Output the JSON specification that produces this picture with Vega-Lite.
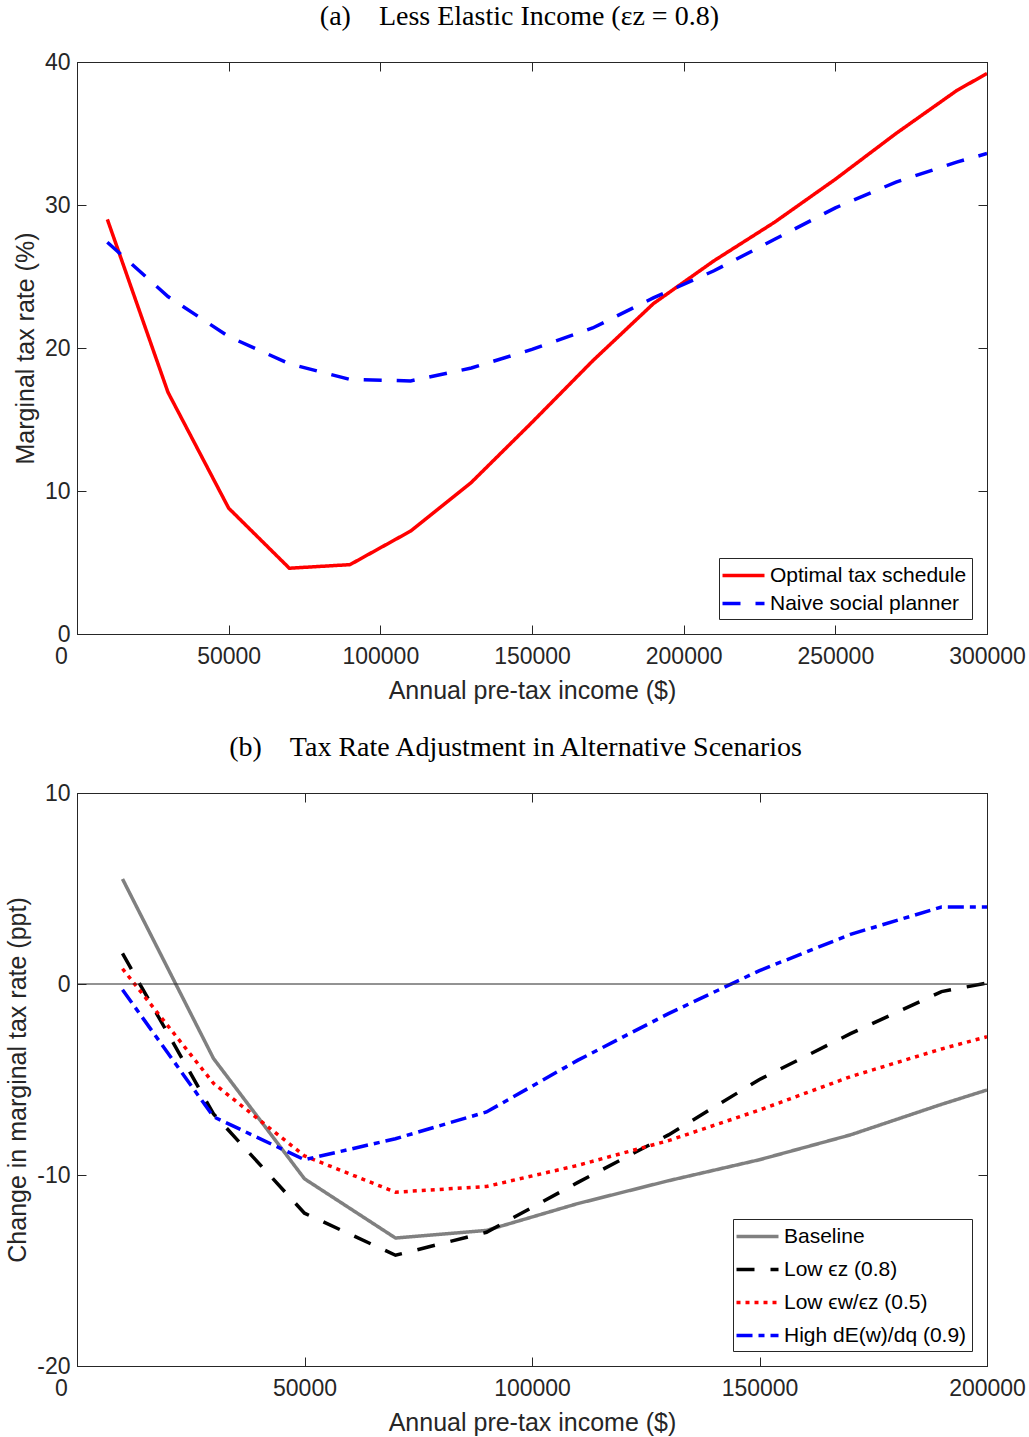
{
  "$schema": "https://vega.github.io/schema/vega-lite/v6.json",
  "padding": {"left": 5, "top": 2, "right": 2, "bottom": 5},
  "background": "white",
  "spacing": 29,
  "resolve": {
    "scale": {"color": "independent", "strokeDash": "independent", "x": "independent", "y": "independent"},
    "legend": {"color": "independent", "strokeDash": "independent"}
  },
  "config": {
    "view": {"stroke": "#262626", "strokeWidth": 1},
    "title": {"font": "Liberation Serif", "fontSize": 28, "fontWeight": "normal", "color": "#000000", "offset": 20, "anchor": "middle", "frame": "bounds"},
    "axis": {
      "labelFont": "Liberation Sans", "labelFontSize": 23, "labelColor": "#262626",
      "titleFont": "Liberation Sans", "titleFontSize": 25, "titleFontWeight": "normal", "titleColor": "#262626",
      "domainColor": "#262626", "tickColor": "#262626", "tickSize": -9, "grid": false,
      "labelExpr": "'' + datum.value"
    },
    "axisBottom": {"labelPadding": 20, "titlePadding": 10, "labelFlush": false},
    "axisLeft": {"labelPadding": 16, "titlePadding": 6},
    "legend": {
      "labelFont": "Liberation Sans", "labelFontSize": 21, "labelColor": "#000000", "labelLimit": 400,
      "strokeColor": "#262626", "fillColor": "white", "padding": 5,
      "symbolType": "M-2,0H2", "symbolSize": 441, "symbolStrokeWidth": 3.5, "symbolOffset": 7,
      "labelOffset": 14, "rowPadding": 5, "orient": "bottom-right", "offset": 15, "title": null
    }
  },
  "vconcat": [
    {
      "title": {"text": "(a)\u00a0\u00a0\u00a0\u00a0Less Elastic Income (εz = 0.8)"},
      "width": 910,
      "height": 572,
      "data": {"values": [
        {"income": 10000, "rate": 29.0, "series": "Optimal tax schedule"},
        {"income": 30000, "rate": 16.9, "series": "Optimal tax schedule"},
        {"income": 50000, "rate": 8.8, "series": "Optimal tax schedule"},
        {"income": 70000, "rate": 4.6, "series": "Optimal tax schedule"},
        {"income": 90000, "rate": 4.85, "series": "Optimal tax schedule"},
        {"income": 110000, "rate": 7.2, "series": "Optimal tax schedule"},
        {"income": 130000, "rate": 10.6, "series": "Optimal tax schedule"},
        {"income": 150000, "rate": 14.8, "series": "Optimal tax schedule"},
        {"income": 170000, "rate": 19.1, "series": "Optimal tax schedule"},
        {"income": 190000, "rate": 23.1, "series": "Optimal tax schedule"},
        {"income": 210000, "rate": 26.1, "series": "Optimal tax schedule"},
        {"income": 230000, "rate": 28.8, "series": "Optimal tax schedule"},
        {"income": 250000, "rate": 31.8, "series": "Optimal tax schedule"},
        {"income": 270000, "rate": 35.0, "series": "Optimal tax schedule"},
        {"income": 290000, "rate": 38.0, "series": "Optimal tax schedule"},
        {"income": 300000, "rate": 39.2, "series": "Optimal tax schedule"},
        {"income": 10000, "rate": 27.4, "series": "Naive social planner"},
        {"income": 30000, "rate": 23.6, "series": "Naive social planner"},
        {"income": 50000, "rate": 20.8, "series": "Naive social planner"},
        {"income": 70000, "rate": 18.9, "series": "Naive social planner"},
        {"income": 90000, "rate": 17.8, "series": "Naive social planner"},
        {"income": 110000, "rate": 17.7, "series": "Naive social planner"},
        {"income": 130000, "rate": 18.6, "series": "Naive social planner"},
        {"income": 150000, "rate": 19.9, "series": "Naive social planner"},
        {"income": 170000, "rate": 21.4, "series": "Naive social planner"},
        {"income": 190000, "rate": 23.5, "series": "Naive social planner"},
        {"income": 210000, "rate": 25.4, "series": "Naive social planner"},
        {"income": 230000, "rate": 27.6, "series": "Naive social planner"},
        {"income": 250000, "rate": 29.8, "series": "Naive social planner"},
        {"income": 270000, "rate": 31.6, "series": "Naive social planner"},
        {"income": 290000, "rate": 33.0, "series": "Naive social planner"},
        {"income": 300000, "rate": 33.6, "series": "Naive social planner"}
      ]},
      "layer": [
        {
          "mark": {"type": "line", "strokeWidth": 3.5, "clip": true},
          "encoding": {
            "x": {"field": "income", "type": "quantitative", "scale": {"domain": [0, 300000], "nice": false},
                  "axis": {"title": "Annual pre-tax income ($)", "values": [0, 50000, 100000, 150000, 200000, 250000, 300000], "orient": "bottom",
                           "labelOffset": {"condition": {"test": "datum.value === 0", "value": -16}, "value": 0}}},
            "y": {"field": "rate", "type": "quantitative", "scale": {"domain": [0, 40], "nice": false},
                  "axis": {"title": "Marginal tax rate (%)", "values": [0, 10, 20, 30, 40], "orient": "left"}},
            "color": {"field": "series", "type": "nominal",
                      "scale": {"domain": ["Optimal tax schedule", "Naive social planner"], "range": ["#ff0000", "#0000ff"]},
                      "legend": {"rowPadding": 5}},
            "strokeDash": {"field": "series", "type": "nominal",
                           "scale": {"domain": ["Optimal tax schedule", "Naive social planner"], "range": [[1, 0], [18, 15]]}}
          }
        },
        {
          "mark": {"type": "point", "opacity": 0},
          "encoding": {
            "x": {"field": "income", "type": "quantitative", "axis": {"orient": "top", "labels": false, "title": null, "values": [0, 50000, 100000, 150000, 200000, 250000, 300000]}},
            "y": {"field": "rate", "type": "quantitative", "axis": {"orient": "right", "labels": false, "title": null, "values": [0, 10, 20, 30, 40]}}
          }
        }
      ],
      "resolve": {"axis": {"x": "independent", "y": "independent"}}
    },
    {
      "title": {"text": "(b)\u00a0\u00a0\u00a0\u00a0Tax Rate Adjustment in Alternative Scenarios"},
      "width": 910,
      "height": 573,
      "data": {"values": [
        {"income": 10000, "change": 5.5, "scenario": "Baseline"},
        {"income": 30000, "change": -3.9, "scenario": "Baseline"},
        {"income": 50000, "change": -10.2, "scenario": "Baseline"},
        {"income": 70000, "change": -13.3, "scenario": "Baseline"},
        {"income": 90000, "change": -12.9, "scenario": "Baseline"},
        {"income": 110000, "change": -11.5, "scenario": "Baseline"},
        {"income": 130000, "change": -10.3, "scenario": "Baseline"},
        {"income": 150000, "change": -9.2, "scenario": "Baseline"},
        {"income": 170000, "change": -7.9, "scenario": "Baseline"},
        {"income": 190000, "change": -6.3, "scenario": "Baseline"},
        {"income": 200000, "change": -5.55, "scenario": "Baseline"},
        {"income": 10000, "change": 1.6, "scenario": "Low ϵz (0.8)"},
        {"income": 30000, "change": -6.8, "scenario": "Low ϵz (0.8)"},
        {"income": 50000, "change": -12.0, "scenario": "Low ϵz (0.8)"},
        {"income": 70000, "change": -14.2, "scenario": "Low ϵz (0.8)"},
        {"income": 90000, "change": -13.0, "scenario": "Low ϵz (0.8)"},
        {"income": 110000, "change": -10.4, "scenario": "Low ϵz (0.8)"},
        {"income": 130000, "change": -7.9, "scenario": "Low ϵz (0.8)"},
        {"income": 150000, "change": -5.0, "scenario": "Low ϵz (0.8)"},
        {"income": 170000, "change": -2.6, "scenario": "Low ϵz (0.8)"},
        {"income": 190000, "change": -0.4, "scenario": "Low ϵz (0.8)"},
        {"income": 200000, "change": 0.05, "scenario": "Low ϵz (0.8)"},
        {"income": 10000, "change": 0.8, "scenario": "Low ϵw/ϵz (0.5)"},
        {"income": 30000, "change": -5.2, "scenario": "Low ϵw/ϵz (0.5)"},
        {"income": 50000, "change": -9.0, "scenario": "Low ϵw/ϵz (0.5)"},
        {"income": 70000, "change": -10.9, "scenario": "Low ϵw/ϵz (0.5)"},
        {"income": 90000, "change": -10.6, "scenario": "Low ϵw/ϵz (0.5)"},
        {"income": 110000, "change": -9.5, "scenario": "Low ϵw/ϵz (0.5)"},
        {"income": 130000, "change": -8.2, "scenario": "Low ϵw/ϵz (0.5)"},
        {"income": 150000, "change": -6.6, "scenario": "Low ϵw/ϵz (0.5)"},
        {"income": 170000, "change": -4.85, "scenario": "Low ϵw/ϵz (0.5)"},
        {"income": 190000, "change": -3.4, "scenario": "Low ϵw/ϵz (0.5)"},
        {"income": 200000, "change": -2.76, "scenario": "Low ϵw/ϵz (0.5)"},
        {"income": 10000, "change": -0.3, "scenario": "High dE(w)/dq (0.9)"},
        {"income": 30000, "change": -6.95, "scenario": "High dE(w)/dq (0.9)"},
        {"income": 50000, "change": -9.2, "scenario": "High dE(w)/dq (0.9)"},
        {"income": 70000, "change": -8.1, "scenario": "High dE(w)/dq (0.9)"},
        {"income": 90000, "change": -6.7, "scenario": "High dE(w)/dq (0.9)"},
        {"income": 110000, "change": -4.0, "scenario": "High dE(w)/dq (0.9)"},
        {"income": 130000, "change": -1.55, "scenario": "High dE(w)/dq (0.9)"},
        {"income": 150000, "change": 0.7, "scenario": "High dE(w)/dq (0.9)"},
        {"income": 170000, "change": 2.6, "scenario": "High dE(w)/dq (0.9)"},
        {"income": 190000, "change": 4.03, "scenario": "High dE(w)/dq (0.9)"},
        {"income": 200000, "change": 4.03, "scenario": "High dE(w)/dq (0.9)"}
      ]},
      "layer": [
        {
          "mark": {"type": "line", "strokeWidth": 3.5, "clip": true},
          "encoding": {
            "x": {"field": "income", "type": "quantitative", "scale": {"domain": [0, 200000], "nice": false},
                  "axis": {"title": "Annual pre-tax income ($)", "values": [0, 50000, 100000, 150000, 200000], "orient": "bottom",
                           "labelOffset": {"condition": {"test": "datum.value === 0", "value": -16}, "value": 0}}},
            "y": {"field": "change", "type": "quantitative", "scale": {"domain": [-20, 10], "nice": false},
                  "axis": {"title": "Change in marginal tax rate (ppt)", "values": [-20, -10, 0, 10], "orient": "left"}},
            "color": {"field": "scenario", "type": "nominal",
                      "scale": {"domain": ["Baseline", "Low ϵz (0.8)", "Low ϵw/ϵz (0.5)", "High dE(w)/dq (0.9)"], "range": ["#808080", "#000000", "#ff0000", "#0000ff"]},
                      "legend": {"rowPadding": 10}},
            "strokeDash": {"field": "scenario", "type": "nominal",
                           "scale": {"domain": ["Baseline", "Low ϵz (0.8)", "Low ϵw/ϵz (0.5)", "High dE(w)/dq (0.9)"], "range": [[1, 0], [18, 16], [4, 5], [16, 6, 6, 6]]}}
          }
        },
        {
          "mark": {"type": "point", "opacity": 0},
          "encoding": {
            "x": {"field": "income", "type": "quantitative", "axis": {"orient": "top", "labels": false, "title": null, "values": [0, 50000, 100000, 150000, 200000]}},
            "y": {"field": "change", "type": "quantitative", "axis": {"orient": "right", "labels": false, "title": null, "values": [-20, -10, 0, 10]}}
          }
        },
        {
          "data": {"values": [{"zero": 0}]},
          "mark": {"type": "rule", "color": "#262626", "strokeWidth": 1},
          "encoding": {"y": {"field": "zero", "type": "quantitative", "axis": null}}
        }
      ],
      "resolve": {"axis": {"x": "independent", "y": "independent"}}
    }
  ]
}
